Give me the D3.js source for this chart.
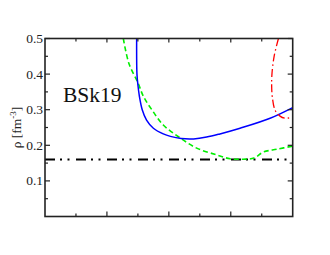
<!DOCTYPE html>
<html><head><meta charset="utf-8">
<script src="https://cdn.jsdelivr.net/npm/d3@7"></script>
</head><body style="margin:0"><svg id="c" width="330" height="255" style="font-family:'Liberation Serif',serif"></svg>
<script>
const yTicks = [0.1, 0.2, 0.3, 0.4, 0.5];
const yTickLabels = ["0.1", "0.2", "0.3", "0.4", "0.5"];
const blueX = [2.96, 2.96, 2.97, 3.00, 3.05, 3.14, 3.28, 3.50, 3.82, 4.05, 4.40, 4.80, 5.22, 5.65, 6.30, 7.27, 8.00];
const blueY = [0.50, 0.45, 0.40, 0.37, 0.337, 0.300, 0.271, 0.248, 0.232, 0.225, 0.219, 0.218, 0.223, 0.232, 0.248, 0.276, 0.306];
const greenX = [2.53, 2.71, 3.01, 3.18, 3.45, 3.82, 4.31, 4.90, 5.55, 5.98, 6.40, 6.75, 7.05, 7.50, 8.00];
const greenY = [0.50, 0.43, 0.374, 0.337, 0.300, 0.257, 0.224, 0.192, 0.173, 0.162, 0.161, 0.164, 0.181, 0.189, 0.198];
const redX = [7.54, 7.40, 7.33, 7.32, 7.34, 7.43, 7.59, 7.75, 7.90, 8.00];
const redY = [0.50, 0.45, 0.40, 0.37, 0.337, 0.299, 0.282, 0.276, 0.277, 0.279];
const satDensity = 0.16;
const label = "BSk19";
const FONT = '"Liberation Serif", serif';

const svg = d3.select("#c");
const L = 45, R = 292.7, T = 38.5, B = 216.5;
const x = d3.scaleLinear().domain([0, 8]).range([L, R]);
const y = d3.scaleLinear().domain([0, 0.5]).range([B, T]);

svg.append("defs").append("clipPath").attr("id", "clip")
  .append("rect").attr("x", L).attr("y", T).attr("width", R - L).attr("height", B - T);

const g = svg.append("g").attr("clip-path", "url(#clip)");
const line = d3.line().x(d => x(d[0])).y(d => y(d[1])).curve(d3.curveCatmullRom.alpha(0.5));

g.append("line").attr("x1", x(0)).attr("x2", x(8)).attr("y1", y(satDensity)).attr("y2", y(satDensity))
  .attr("stroke", "#000").attr("stroke-width", 2).attr("stroke-dasharray", "10,5,2,5.5,2,6.5");

g.append("path").attr("d", line(d3.zip(greenX, greenY))).attr("fill", "none")
  .attr("stroke", "#00ee00").attr("stroke-width", 1.6).attr("stroke-dasharray", "5,3");
g.append("path").attr("d", line(d3.zip(blueX, blueY))).attr("fill", "none")
  .attr("stroke", "#0000ff").attr("stroke-width", 1.5);
g.append("path").attr("d", line(d3.zip(redX, redY))).attr("fill", "none")
  .attr("stroke", "#ff0000").attr("stroke-width", 1.3).attr("stroke-dasharray", "8,3,1.5,3");

const ax = svg.append("g");
const yMinor = d3.range(0.05, 0.5, 0.1);
const xMajor = [2, 4, 6], xMinor = [1, 3, 5, 7];
const tick = (x1, x2, y1, y2) => ax.append("line").attr("x1", x1).attr("x2", x2).attr("y1", y1).attr("y2", y2)
  .attr("stroke", "#222").attr("stroke-width", 1.2);
yTicks.forEach(v => { tick(L, L + 5, y(v), y(v)); tick(R, R - 5, y(v), y(v)); });
yMinor.forEach(v => { tick(L, L + 3, y(v), y(v)); tick(R, R - 3, y(v), y(v)); });
xMajor.forEach(v => { tick(x(v), x(v), B, B - 5); tick(x(v), x(v), T, T + 4); });
xMinor.forEach(v => { tick(x(v), x(v), B, B - 3); tick(x(v), x(v), T, T + 3); });
ax.append("rect").attr("x", L).attr("y", T).attr("width", R - L).attr("height", B - T)
  .attr("fill", "none").attr("stroke", "#222").attr("stroke-width", 1.6);

yTicks.forEach((v, i) => {
  svg.append("text").attr("x", L - 2).attr("y", y(v) + 4.5).attr("text-anchor", "end")
    .style("font-family", FONT, "important").style("font-size", "13.5px").attr("fill", "#222").text(yTickLabels[i]);
});

const yl = svg.append("text").attr("transform", `translate(21,${(T + B) / 2}) rotate(-90)`)
  .attr("text-anchor", "middle").style("font-family", FONT, "important").style("font-size", "13.5px").attr("fill", "#222");
yl.append("tspan").text("ρ [fm");
yl.append("tspan").attr("dy", -5).style("font-size", "9px").text("-3");
yl.append("tspan").attr("dy", 5).text("]");

svg.append("text").attr("x", 63).attr("y", 101.5).style("font-family", FONT, "important").style("font-size", "21.5px")
  .attr("fill", "#111").text(label);
</script></body></html>
